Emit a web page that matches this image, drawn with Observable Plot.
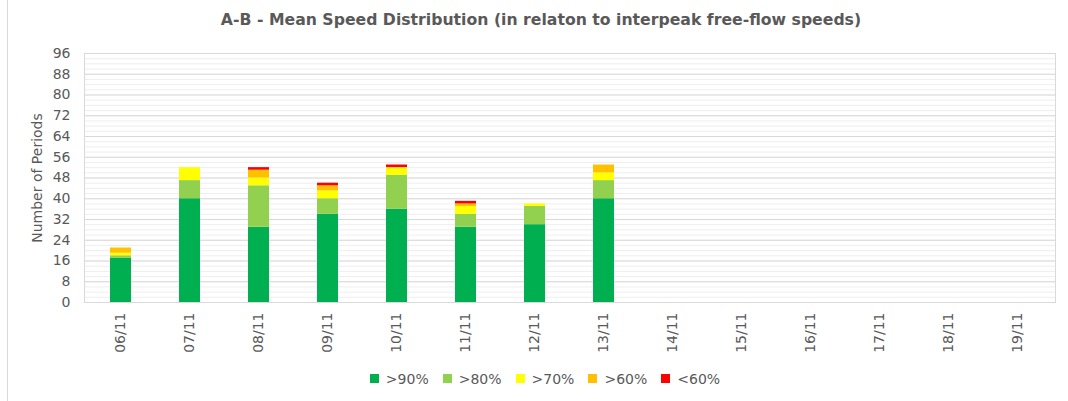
<!DOCTYPE html>
<html>
<head>
<meta charset="utf-8">
<script src="https://cdn.jsdelivr.net/npm/d3@7"></script>
<script src="https://cdn.jsdelivr.net/npm/@observablehq/plot@0.6"></script>
<style>
  html, body { margin: 0; padding: 0; background: #fff; }
  body { width: 1068px; height: 401px; position: relative; overflow: hidden; font-family: "DejaVu Sans", sans-serif; }
  #border { position: absolute; left: 7px; top: 0; width: 0; height: 401px; border-left: 1px solid #d9d9d9; }
  #title { height: 40px; line-height: 40px; text-align: center; padding-left: 14px; box-sizing: border-box;
           font-weight: bold; font-size: 15.7px; color: #595959; }
  #legend { display: flex; justify-content: center; padding-left: 36px; }
</style>
</head>
<body>
<div id="border"></div>
<div id="title">A-B - Mean Speed Distribution (in relaton to interpeak free-flow speeds)</div>
<div id="chart"></div>
<div id="legend"></div>
<script>
const dates = ["06/11","07/11","08/11","09/11","10/11","11/11","12/11","13/11","14/11","15/11","16/11","17/11","18/11","19/11"];
const seriesNames = [">90%", ">80%", ">70%", ">60%", "<60%"];
const seriesColors = ["#00B050", "#92D050", "#FFFF00", "#FFC000", "#FF0000"];
const over90 = [17, 40, 29, 34, 36, 29, 30, 40];
const over80 = [1, 7, 16, 6, 13, 5, 7, 7];
const over70 = [1, 5, 3, 3, 3, 3, 1, 3];
const over60 = [2, 0, 3, 2, 0, 1, 0, 3];
const under60 = [0, 0, 1, 1, 1, 1, 0, 0];
const yTicks = d3.range(0, 97, 8);
const yMinorTicks = d3.range(0, 97, 2);

const seriesValues = [over90, over80, over70, over60, under60];
const data = [];
seriesNames.forEach((s, i) => {
  seriesValues[i].forEach((v, j) => {
    data.push({date: dates[j], series: s, value: v});
  });
});

const font = {fontFamily: "DejaVu Sans, sans-serif", fontSize: "14px", color: "#595959", background: "transparent"};

const chart = Plot.plot({
  width: 1068,
  height: 322,
  marginTop: 13,
  marginBottom: 60,
  marginLeft: 84,
  marginRight: 13,
  style: font,
  x: {domain: dates, paddingInner: 0.69, paddingOuter: 0.345, label: null},
  y: {domain: [0, 96], label: null},
  color: {domain: seriesNames, range: seriesColors},
  marks: [
    Plot.gridY(yMinorTicks, {stroke: "#eeeeee", strokeOpacity: 1}),
    Plot.gridY(yTicks, {stroke: "#d9d9d9", strokeOpacity: 1}),
    Plot.frame({stroke: "#d9d9d9"}),
    Plot.barY(data, {x: "date", y: "value", fill: "series", order: null}),
    Plot.axisY(yTicks, {tickSize: 0, tickPadding: 14, label: "Number of Periods", labelAnchor: "center", labelArrow: "none", labelOffset: 52, fill: "#595959"}),
    Plot.axisX({tickSize: 0, tickPadding: 10, tickRotate: -90, label: null, fill: "#595959"})
  ]
});
document.getElementById("chart").appendChild(chart);

const legend = Plot.legend({
  color: {domain: seriesNames, range: seriesColors},
  legend: "swatches",
  swatchSize: 9,
  style: font
});
document.getElementById("legend").appendChild(legend);
</script>
</body>
</html>
